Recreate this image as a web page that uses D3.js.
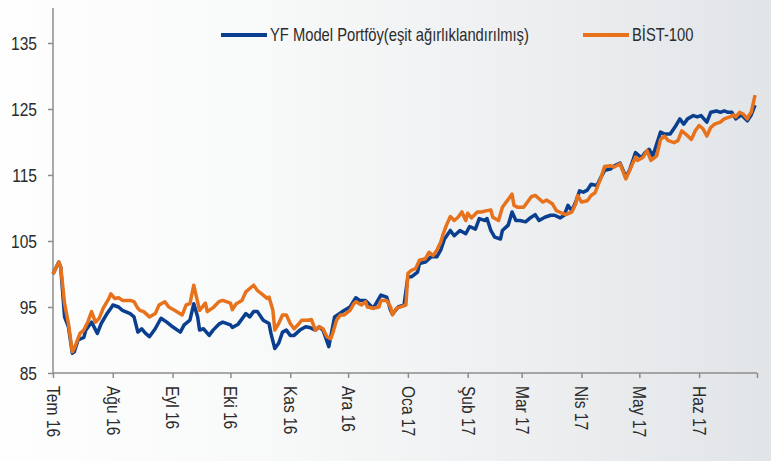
<!DOCTYPE html>
<html lang="tr">

<head>
  <meta charset="UTF-8">
  <title>YF Model Portföy - BİST-100</title>
  <style>
    body {
      margin: 0;
      background: #fff;
    }

    .axis path,
    .axis line {
      stroke: #8c8c8c;
      stroke-width: 1.5;
    }

    .axis text {
      font-family: "Liberation Sans Narrow", "Liberation Sans", Arial, sans-serif;
      font-size: 19px;
      fill: #2b2b2b;
    }

    .legend text {
      font-family: "Liberation Sans Narrow", "Liberation Sans", Arial, sans-serif;
      font-size: 18px;
      fill: #2b2b2b;
    }
  </style>
</head>

<body>
  <div id="chart"></div>
  <script src="https://cdn.jsdelivr.net/npm/d3@7"></script>
  <script>
    // okunan degerler (grafikten)
    var yTicks = [85, 95, 105, 115, 125, 135];
    var monthLabels = ['Tem 16', 'Ağu 16', 'Eyl 16', 'Eki 16', 'Kas 16', 'Ara 16',
      'Oca 17', 'Şub 17', 'Mar 17', 'Nis 17', 'May 17', 'Haz 17', ''];
    var seriesNames = ['YF Model Portföy(eşit ağırlıklandırılmış)', 'BİST-100'];

    var yfDates = ['2016-07-01', '2016-07-04', '2016-07-05', '2016-07-07', '2016-07-09', '2016-07-11',
      '2016-07-12', '2016-07-14', '2016-07-17', '2016-07-18', '2016-07-21', '2016-07-24', '2016-07-26',
      '2016-07-29', '2016-07-31', '2016-08-01', '2016-08-04', '2016-08-06', '2016-08-10', '2016-08-12',
      '2016-08-14', '2016-08-16', '2016-08-18', '2016-08-20', '2016-08-23', '2016-08-26', '2016-08-29',
      '2016-09-01', '2016-09-05', '2016-09-07', '2016-09-10', '2016-09-12', '2016-09-14', '2016-09-15',
      '2016-09-17', '2016-09-20', '2016-09-22', '2016-09-25', '2016-09-27', '2016-10-01', '2016-10-02',
      '2016-10-05', '2016-10-09', '2016-10-11', '2016-10-13', '2016-10-15', '2016-10-18', '2016-10-21',
      '2016-10-22', '2016-10-24', '2016-10-26', '2016-10-28', '2016-10-30', '2016-11-01', '2016-11-03',
      '2016-11-06', '2016-11-09', '2016-11-11', '2016-11-14', '2016-11-16', '2016-11-18', '2016-11-21',
      '2016-11-24', '2016-11-28', '2016-12-02', '2016-12-05', '2016-12-07', '2016-12-10', '2016-12-14',
      '2016-12-18', '2016-12-21', '2016-12-23', '2016-12-24', '2016-12-27', '2016-12-30', '2017-01-01',
      '2017-01-03', '2017-01-06', '2017-01-07', '2017-01-10', '2017-01-13', '2017-01-16', '2017-01-18',
      '2017-01-20', '2017-01-23', '2017-01-25', '2017-01-28', '2017-01-31', '2017-02-02', '2017-02-05',
      '2017-02-07', '2017-02-10', '2017-02-11', '2017-02-13', '2017-02-15', '2017-02-18', '2017-02-19',
      '2017-02-22', '2017-02-24', '2017-02-26', '2017-02-28', '2017-03-03', '2017-03-05', '2017-03-08',
      '2017-03-10', '2017-03-13', '2017-03-16', '2017-03-18', '2017-03-21', '2017-03-23', '2017-03-25',
      '2017-03-27', '2017-03-29', '2017-03-31', '2017-04-02', '2017-04-04', '2017-04-06', '2017-04-09',
      '2017-04-11', '2017-04-13', '2017-04-16', '2017-04-18', '2017-04-21', '2017-04-24', '2017-04-26',
      '2017-04-29', '2017-05-02', '2017-05-04', '2017-05-06', '2017-05-08', '2017-05-12', '2017-05-14',
      '2017-05-17', '2017-05-20', '2017-05-22', '2017-05-24', '2017-05-26', '2017-05-29', '2017-05-31',
      '2017-06-02', '2017-06-05', '2017-06-07', '2017-06-10', '2017-06-12', '2017-06-14', '2017-06-16',
      '2017-06-18', '2017-06-20', '2017-06-23', '2017-06-26', '2017-06-28', '2017-06-30'];
    var yfValues = [100.0, 101.8, 101.0, 93.5, 92.0, 88.0,
      88.2, 90.0, 90.4, 91.5, 92.7, 91.0, 92.5,
      94.0, 94.8, 95.3, 95.0, 94.5, 94.0, 93.5,
      91.2, 91.7, 91.0, 90.5, 91.7, 93.3, 92.7,
      92.0, 91.2, 92.3, 93.0, 95.5, 93.5, 91.5,
      91.7, 90.7, 91.5, 92.4, 92.7, 92.3, 91.9,
      92.4, 94.0, 93.5, 94.3, 94.3, 93.0, 92.5,
      91.0, 88.7, 89.5, 91.2, 91.5, 90.7, 90.7,
      91.5, 92.0, 91.9, 91.5, 92.0, 91.5, 89.0,
      93.5, 94.3, 95.0, 96.4, 96.0, 96.0, 94.8,
      96.8, 96.5, 94.5, 93.9, 95.0, 95.3, 99.6,
      99.6, 100.3, 101.6, 101.8, 102.6, 102.6, 103.6,
      105.3, 106.6, 105.8, 106.6, 106.1, 107.2, 106.8,
      108.4, 108.1, 108.4, 106.6, 105.6, 105.3, 106.6,
      107.4, 109.4, 108.1, 108.1, 107.9, 108.4, 109.0,
      108.1, 108.6, 108.9, 108.9, 108.5, 108.9, 110.4,
      109.6, 110.9, 112.6, 112.4, 112.7, 113.6, 113.4,
      114.6, 115.7, 115.9, 116.4, 116.8, 114.7, 115.8,
      118.4, 117.6, 118.4, 118.9, 117.9, 121.5, 121.2,
      121.2, 122.5, 123.5, 122.7, 123.5, 124.0, 123.8,
      124.0, 123.0, 124.5, 124.7, 124.5, 124.7, 124.5,
      124.5, 123.5, 124.1, 123.2, 124.1, 125.6];

    var bistDates = ['2016-07-01', '2016-07-04', '2016-07-05', '2016-07-07', '2016-07-09', '2016-07-11',
      '2016-07-12', '2016-07-15', '2016-07-17', '2016-07-19', '2016-07-21', '2016-07-23', '2016-07-25',
      '2016-07-27', '2016-07-30', '2016-07-31', '2016-08-02', '2016-08-04', '2016-08-06', '2016-08-10',
      '2016-08-12', '2016-08-14', '2016-08-15', '2016-08-17', '2016-08-20', '2016-08-23', '2016-08-25',
      '2016-08-28', '2016-08-30', '2016-09-02', '2016-09-06', '2016-09-08', '2016-09-10', '2016-09-12',
      '2016-09-13', '2016-09-15', '2016-09-18', '2016-09-19', '2016-09-22', '2016-09-25', '2016-09-27',
      '2016-10-01', '2016-10-02', '2016-10-04', '2016-10-07', '2016-10-09', '2016-10-11', '2016-10-13',
      '2016-10-15', '2016-10-18', '2016-10-20', '2016-10-21', '2016-10-23', '2016-10-24', '2016-10-26',
      '2016-10-28', '2016-10-30', '2016-11-01', '2016-11-03', '2016-11-05', '2016-11-07', '2016-11-10',
      '2016-11-12', '2016-11-14', '2016-11-16', '2016-11-18', '2016-11-20', '2016-11-22', '2016-11-23',
      '2016-11-25', '2016-11-27', '2016-11-29', '2016-12-02', '2016-12-04', '2016-12-05', '2016-12-08',
      '2016-12-10', '2016-12-11', '2016-12-14', '2016-12-17', '2016-12-18', '2016-12-21', '2016-12-23',
      '2016-12-24', '2016-12-26', '2016-12-29', '2016-12-31', '2017-01-01', '2017-01-03', '2017-01-05',
      '2017-01-07', '2017-01-10', '2017-01-12', '2017-01-14', '2017-01-16', '2017-01-18', '2017-01-19',
      '2017-01-21', '2017-01-23', '2017-01-25', '2017-01-27', '2017-01-29', '2017-01-31', '2017-02-01',
      '2017-02-03', '2017-02-06', '2017-02-08', '2017-02-11', '2017-02-13', '2017-02-14', '2017-02-17',
      '2017-02-19', '2017-02-21', '2017-02-24', '2017-02-25', '2017-02-27', '2017-03-02', '2017-03-04',
      '2017-03-06', '2017-03-08', '2017-03-10', '2017-03-12', '2017-03-14', '2017-03-17', '2017-03-19',
      '2017-03-22', '2017-03-24', '2017-03-27', '2017-03-29', '2017-03-30', '2017-04-01', '2017-04-04',
      '2017-04-06', '2017-04-08', '2017-04-11', '2017-04-13', '2017-04-16', '2017-04-18', '2017-04-21',
      '2017-04-24', '2017-04-26', '2017-04-29', '2017-04-30', '2017-05-03', '2017-05-05', '2017-05-07',
      '2017-05-10', '2017-05-12', '2017-05-14', '2017-05-16', '2017-05-19', '2017-05-21', '2017-05-23',
      '2017-05-25', '2017-05-28', '2017-05-30', '2017-06-01', '2017-06-03', '2017-06-05', '2017-06-07',
      '2017-06-09', '2017-06-12', '2017-06-14', '2017-06-17', '2017-06-19', '2017-06-20', '2017-06-22',
      '2017-06-24', '2017-06-26', '2017-06-27', '2017-06-28', '2017-06-30'];
    var bistValues = [100.0, 101.8, 101.1, 95.5, 92.5, 88.2,
      88.7, 91.0, 91.5, 92.7, 94.3, 92.7, 93.3,
      94.8, 96.3, 97.0, 96.3, 96.4, 96.0, 96.0,
      95.8, 94.8, 94.5, 94.3, 93.5, 94.0, 95.3,
      95.8, 95.0, 94.5, 93.8, 95.3, 95.5, 98.3,
      97.0, 94.5, 95.6, 94.3, 94.9, 95.8, 96.0,
      95.6, 94.6, 95.5, 96.0, 97.3, 97.8, 98.3,
      97.5, 96.8, 96.3, 96.5, 94.5, 91.5, 92.5,
      93.8, 93.8, 92.5, 91.7, 92.3, 93.0, 93.0,
      93.1, 91.5, 92.0, 91.7, 90.5, 90.2, 91.0,
      93.0, 93.8, 93.8, 94.5, 95.5, 95.8, 95.3,
      95.8, 95.0, 94.8, 95.0, 96.0, 96.0, 95.0,
      93.8, 94.8, 95.1, 95.3, 100.1, 100.6, 100.8,
      102.1, 102.3, 103.3, 102.8, 103.6, 104.8, 105.8,
      107.4, 108.7, 108.1, 108.6, 109.4, 108.1, 109.2,
      108.5, 109.4, 109.4, 109.6, 109.7, 108.6, 108.1,
      110.1, 110.9, 112.1, 110.4, 110.1, 110.1, 110.9,
      111.7, 111.9, 111.4, 110.9, 111.2, 110.6, 109.6,
      109.2, 109.0, 109.4, 110.6, 111.9, 110.9, 111.1,
      111.9, 112.3, 114.5, 116.3, 116.4, 116.2, 116.7,
      114.4, 115.7, 117.7, 117.2, 117.7, 118.7, 117.2,
      117.9, 120.4, 120.9, 120.2, 119.9, 120.2, 121.7,
      121.2, 120.4, 121.7, 122.5, 122.0, 120.9, 122.2,
      122.7, 123.0, 123.5, 123.8, 124.1, 123.8, 124.5,
      124.2, 123.5, 124.1, 124.5, 127.1];

    var W = 771, H = 461;
    var margin = { top: 8, right: 14, bottom: 88, left: 53 };
    var narrow = 0.82; // dar yazi tipi yok, yatayda sikistir
    var parse = d3.timeParse('%Y-%m-%d');

    var svg = d3.select('#chart').append('svg')
      .attr('width', W)
      .attr('height', H);

    // arka plan: soldan saga acik gri
    var grad = svg.append('defs').append('linearGradient')
      .attr('id', 'bg')
      .attr('x1', '0%').attr('x2', '100%')
      .attr('y1', '0%').attr('y2', '0%');
    grad.append('stop').attr('offset', '0%').attr('stop-color', '#fefefe');
    grad.append('stop').attr('offset', '35%').attr('stop-color', '#f8f9f9');
    grad.append('stop').attr('offset', '100%').attr('stop-color', '#e2e5e8');
    svg.append('rect')
      .attr('width', W).attr('height', H)
      .attr('fill', 'url(#bg)');

    var x = d3.scaleTime()
      .domain([parse('2016-07-01'), parse('2017-07-01')])
      .range([margin.left, W - margin.right]);
    var y = d3.scaleLinear()
      .domain([85, 140.3])
      .range([H - margin.bottom, margin.top]);

    var xAxis = d3.axisBottom(x)
      .ticks(d3.timeMonth.every(1))
      .tickSize(5)
      .tickFormat(function (d, i) { return monthLabels[i]; });
    var gx = svg.append('g')
      .attr('class', 'axis')
      .attr('transform', 'translate(0,' + (H - margin.bottom) + ')')
      .call(xAxis);
    gx.select('.domain').attr('d', 'M' + x.range()[0] + ',0H' + x.range()[1]);
    gx.selectAll('text')
      .attr('transform', 'rotate(90) scale(' + narrow + ',1)')
      .attr('x', 13 / narrow)
      .attr('y', 0)
      .attr('dy', '0.35em')
      .style('text-anchor', 'start');

    var yAxis = d3.axisLeft(y)
      .tickValues(yTicks)
      .tickSize(5)
      .tickPadding(11);
    var gy = svg.append('g')
      .attr('class', 'axis')
      .attr('transform', 'translate(' + margin.left + ',0)')
      .call(yAxis);
    gy.select('.domain').attr('d', 'M0,' + y.range()[0] + 'V' + y.range()[1]);
    gy.selectAll('text')
      .attr('x', -16 / narrow)
      .attr('transform', 'scale(' + narrow + ',1)');

    function toPoints(dates, values) {
      return dates.map(function (d, i) {
        return { date: parse(d), value: values[i] };
      });
    }

    var line = d3.line()
      .x(function (d) { return x(d.date); })
      .y(function (d) { return y(d.value); });

    var colors = ['#0a3f8f', '#e8721c'];
    var series = [toPoints(yfDates, yfValues), toPoints(bistDates, bistValues)];

    svg.selectAll('path.series')
      .data(series)
      .enter()
      .append('path')
      .attr('class', 'series')
      .attr('d', line)
      .attr('fill', 'none')
      .attr('stroke', function (d, i) { return colors[i]; })
      .attr('stroke-width', 3.5)
      .attr('stroke-linejoin', 'round');

    // legend
    var legendPos = [221, 583];
    var lg = svg.append('g').attr('class', 'legend');
    var item = lg.selectAll('g')
      .data(seriesNames)
      .enter()
      .append('g')
      .attr('transform', function (d, i) { return 'translate(' + legendPos[i] + ',35)'; });
    item.append('line')
      .attr('x1', 0).attr('x2', 46)
      .attr('stroke', function (d, i) { return colors[i]; })
      .attr('stroke-width', 4);
    item.append('text')
      .attr('transform', 'translate(49,0) scale(' + narrow + ',1)')
      .attr('dy', '0.35em')
      .text(function (d) { return d; });
  </script>
</body>

</html>
